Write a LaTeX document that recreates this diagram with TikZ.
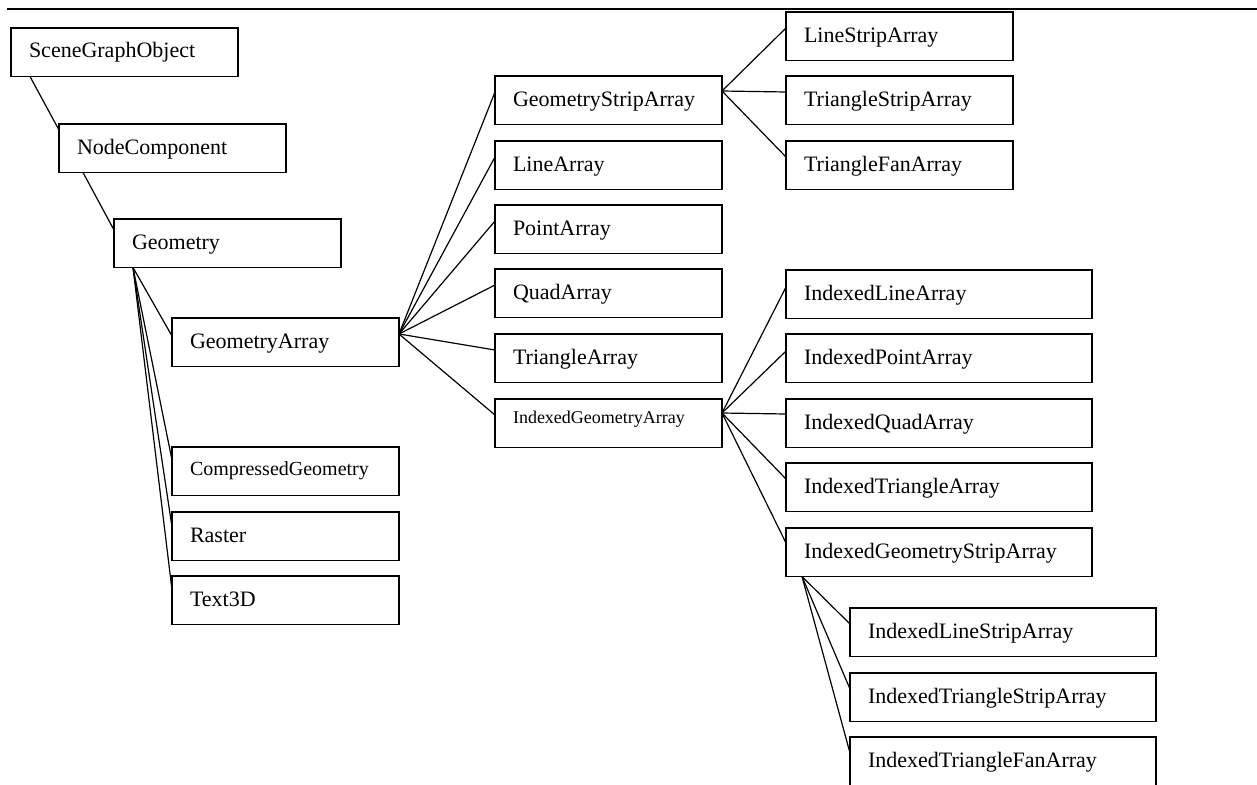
\documentclass[tikz,border=0pt]{standalone}
\usepackage{fontspec}
\setmainfont{Liberation Serif}
\usetikzlibrary{calc}
\begin{document}
\begin{tikzpicture}[x=1pt,y=-1pt,
  cls/.style={draw, line width=1.4pt, anchor=north west, inner xsep=18pt,
    inner ysep=0pt, outer sep=0pt, align=left, text width=191pt,
    text height=30pt, text depth=18.5pt, font=\fontsize{22}{26}\selectfont},
  wide/.style={text width=270pt},
  smalltxt/.style={font=\fontsize{18}{22}\selectfont, text height=24pt, text depth=24.5pt},
  midtxt/.style={font=\fontsize{20}{24}\selectfont, text height=28pt, text depth=20.5pt},
  link/.style={draw, line width=1.2pt}]
\clip (0,0) rectangle (1257,784);
\fill[white] (0,0) rectangle (1257,784);

% rule across the top of the page
\draw[line width=2.4pt] (7,9) -- (1257,9);

% class boxes
\node[cls] (sgo)  at (11,28)  {SceneGraphObject};
\node[cls] (nc)   at (59,124) {NodeComponent};
\node[cls] (geo)  at (114,219) {Geometry};
\node[cls] (ga)   at (172,318) {GeometryArray};
\node[cls,midtxt] (cg) at (172,447) {CompressedGeometry};
\node[cls] (ras)  at (172,512) {Raster};
\node[cls] (t3d)  at (172,576) {Text3D};

\node[cls] (gsa)  at (495,76)  {GeometryStripArray};
\node[cls] (la)   at (495,141) {LineArray};
\node[cls] (pa)   at (495,205) {PointArray};
\node[cls] (qa)   at (495,269) {QuadArray};
\node[cls] (ta)   at (495,334) {TriangleArray};
\node[cls,smalltxt] (iga) at (495,399) {IndexedGeometryArray};

\node[cls] (lsa)  at (786,12)  {LineStripArray};
\node[cls] (tsa)  at (786,76)  {TriangleStripArray};
\node[cls] (tfa)  at (786,141) {TriangleFanArray};

\node[cls,wide] (ila)  at (786,270) {IndexedLineArray};
\node[cls,wide] (ipa)  at (786,334) {IndexedPointArray};
\node[cls,wide] (iqa)  at (786,399) {IndexedQuadArray};
\node[cls,wide] (ita)  at (786,463) {IndexedTriangleArray};
\node[cls,wide] (igsa) at (786,528) {IndexedGeometryStripArray};

\node[cls,wide] (ilsa) at (850,608) {IndexedLineStripArray};
\node[cls,wide] (itsa) at (850,673) {IndexedTriangleStripArray};
\node[cls,wide] (itfa) at (850,737) {IndexedTriangleFanArray};

% inheritance links
\path[link] ($(sgo.south west)+(19,0)$) -- ($(nc.north west)+(0,6)$);
\path[link] ($(nc.south west)+(24,0)$) -- ($(geo.north west)+(0,11)$);

\coordinate (gfoot) at ($(geo.south west)+(19,0)$);
\path[link] (gfoot) -- ($(ga.north west)+(0,18)$);
\path[link] (gfoot) -- ($(cg.north west)+(0,13)$);
\path[link] (gfoot) -- ($(ras.north west)+(0,15)$);
\path[link] (gfoot) -- ($(t3d.north west)+(0,14)$);

\coordinate (gaout) at ($(ga.north east)+(0,16)$);
\foreach \c in {gsa,la,pa,qa,ta,iga}
  \path[link] (gaout) -- ($(\c.north west)+(0,16)$);

\coordinate (gsaout) at ($(gsa.north east)+(0,15)$);
\foreach \c in {lsa,tsa,tfa}
  \path[link] (gsaout) -- ($(\c.north west)+(0,16)$);

\coordinate (igaout) at ($(iga.north east)+(0,14)$);
\path[link] (igaout) -- ($(ila.north west)+(0,17)$);
\path[link] (igaout) -- ($(ipa.north west)+(0,17)$);
\path[link] (igaout) -- ($(iqa.north west)+(0,15)$);
\path[link] (igaout) -- ($(ita.north west)+(0,16)$);
\path[link] (igaout) -- ($(igsa.north west)+(0,15)$);

\coordinate (igsafoot) at ($(igsa.south west)+(16,0)$);
\foreach \c in {ilsa,itsa,itfa}
  \path[link] (igsafoot) -- ($(\c.north west)+(0,16)$);
\end{tikzpicture}
\end{document}
